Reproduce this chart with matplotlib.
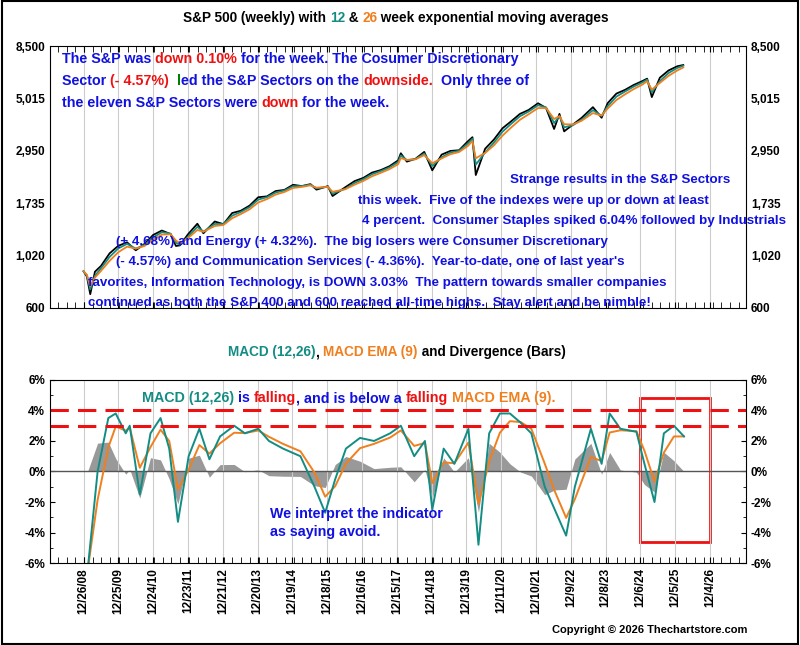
#Description: S&P 500 weekly with 12 & 26 week EMAs and the MACD (12,26) pane

#import the libraries
import numpy as np
import pandas as pd
import matplotlib.pyplot as plt
import matplotlib.dates as mdates
from matplotlib.transforms import offset_copy
plt.rcParams['font.family'] = ['Liberation Sans', 'DejaVu Sans']
plt.rcParams['font.weight'] = 'bold'


#store the data (S&P 500 closes)
SPX = pd.DataFrame({
    'Date': ['2008-12-26', '2009-01-30', '2009-03-06', '2009-04-24', '2009-06-26', '2009-09-25', '2009-12-24',
             '2010-03-26', '2010-06-25', '2010-09-24', '2010-12-24', '2011-03-25', '2011-06-24', '2011-08-19',
             '2011-09-30', '2011-12-23', '2012-03-30', '2012-06-01', '2012-09-28', '2012-12-28', '2013-03-29',
             '2013-06-28', '2013-09-27', '2013-12-27', '2014-03-28', '2014-06-27', '2014-09-26', '2014-12-26',
             '2015-03-27', '2015-06-26', '2015-08-28', '2015-12-25', '2016-02-12', '2016-06-24', '2016-09-30',
             '2016-12-30', '2017-03-31', '2017-06-30', '2017-09-29', '2017-12-29', '2018-01-26', '2018-03-30',
             '2018-06-29', '2018-09-28', '2018-12-21', '2019-03-29', '2019-06-28', '2019-09-27', '2019-12-27',
             '2020-02-14', '2020-03-20', '2020-06-26', '2020-09-25', '2020-12-25', '2021-03-26', '2021-06-25',
             '2021-09-24', '2021-12-31', '2022-03-25', '2022-06-17', '2022-08-12', '2022-09-30', '2022-12-30',
             '2023-03-31', '2023-07-28', '2023-10-27', '2023-12-29', '2024-03-29', '2024-06-28', '2024-09-27',
             '2024-12-27', '2025-02-14', '2025-04-04', '2025-06-27', '2025-09-26', '2025-12-26', '2026-02-27'],
    'Close': [870, 825, 690, 866, 918, 1044, 1126,
              1166, 1076, 1148, 1257, 1314, 1268, 1124,
              1131, 1265, 1408, 1278, 1440, 1402, 1569,
              1606, 1691, 1841, 1857, 1960, 1982, 2088,
              2061, 2102, 1988, 2060, 1864, 2037, 2168,
              2239, 2362, 2423, 2519, 2674, 2873, 2640,
              2718, 2914, 2417, 2834, 2942, 2962, 3240,
              3380, 2305, 3009, 3298, 3703, 3974, 4280,
              4455, 4766, 4543, 3675, 4280, 3586, 3840,
              4109, 4582, 4117, 4770, 5254, 5460, 5738,
              5970, 6115, 5074, 6173, 6644, 6930, 7020]})

#Set the date as the index
SPX = SPX.set_index(pd.DatetimeIndex(SPX['Date'].values))
SPX.index.name = 'Date'

#exponential moving averages (smoothing per point on the uneven dates)
SPX['EMA12'] = SPX['Close'].ewm(alpha=0.75).mean()
SPX['EMA26'] = SPX['Close'].ewm(alpha=0.55).mean()

#MACD values in percent
MACD = pd.DataFrame({
    'Date': ['2009-02-06', '2009-05-22', '2009-09-11', '2009-11-27', '2010-03-12', '2010-04-23', '2010-08-06',
             '2010-11-26', '2011-03-11', '2011-06-10', '2011-09-09', '2011-12-30', '2012-04-20', '2012-08-03',
             '2012-11-23', '2013-04-19', '2013-08-09', '2013-12-27', '2014-04-18', '2014-09-12', '2015-03-13',
             '2015-08-07', '2015-11-27', '2016-03-11', '2016-07-01', '2016-11-25', '2017-04-21', '2017-10-06',
             '2018-01-26', '2018-06-15', '2018-10-05', '2018-12-21', '2019-04-19', '2019-08-09', '2020-01-03',
             '2020-04-17', '2020-08-07', '2020-11-27', '2021-03-12', '2021-07-02', '2021-10-22', '2022-03-11',
             '2022-06-24', '2022-10-21', '2023-01-20', '2023-07-07', '2023-10-27', '2024-01-19', '2024-05-10',
             '2024-10-25', '2025-01-17', '2025-05-02', '2025-08-08', '2025-11-21', '2026-03-06'],
    'MACD': [-6.5, 0.0, 3.5, 3.8, 2.5, 3.0, -1.5,
             2.5, 3.5, 1.5, -3.3, 1.0, 2.8, 0.8,
             2.3, 3.0, 2.5, 2.8, 2.0, 1.5, 1.0,
             -1.0, -2.7, -0.5, 1.5, 2.2, 2.0, 2.5,
             3.0, 1.0, 2.0, -2.5, 1.5, 0.5, 2.8,
             -4.8, 2.5, 3.8, 3.8, 3.2, 2.5, -1.0,
             -2.5, -4.2, -1.0, 2.8, 0.5, 3.8, 2.8,
             2.6, 0.5, -2.0, 2.5, 3.0, 2.3]})
MACD = MACD.set_index(pd.DatetimeIndex(MACD['Date'].values))
MACD['EMA9'] = MACD['MACD'].ewm(alpha=0.6).mean()
MACD['Div'] = MACD['MACD'] - MACD['EMA9']


#helper: write a line of text in several colours
def color_text(ax, x, y, parts, size=10.3):
    fig = ax.figure
    fig.canvas.draw()
    renderer = fig.canvas.get_renderer()
    trans = ax.transAxes
    for txt, col in parts:
        t = ax.text(x, y, txt, color=col, fontsize=size, fontweight='bold', transform=trans, va='center')
        ext = t.get_window_extent(renderer=renderer)
        trans = offset_copy(t.get_transform(), x=ext.width, units='dots')


#ticks every 52 weeks from 12/26/08
ticks = pd.date_range('2008-12-26', periods=19, freq='364D')
xmin, xmax = pd.Timestamp('2008-01-10'), pd.Timestamp('2027-12-15')

fig = plt.figure(figsize=(8, 6.45), dpi=100)
fig.add_artist(plt.Rectangle((0.002, 0.002), 0.996, 0.996, transform=fig.transFigure,
                             fill=False, edgecolor='black', lw=1.5))  # outer frame

#upper pane: price and EMAs
ax1 = plt.axes([0.0625, 0.5225, 0.87, 0.406])
ax1.plot(SPX.index, SPX['Close'], color='black', lw=1.3)
ax1.plot(SPX.index, SPX['EMA12'], color='#138d84', lw=1.3)
ax1.plot(SPX.index, SPX['EMA26'], color='#f07f1e', lw=1.3)
ax1.set_yscale('log')
ax1.set_ylim(600, 8500)
ax1.set_yticks([600, 1020, 1735, 2950, 5015, 8500])
ax1.set_yticklabels(['600', '1,020', '1,735', '2,950', '5,015', '8,500'])
ax1.minorticks_off()
ax1.set_xlim(xmin, xmax)
ax1.set_xticks(ticks)
ax1.set_xticklabels([])
ax1.xaxis.set_minor_locator(mdates.MonthLocator(bymonth=[1, 4, 7, 10]))
ax1.tick_params(axis='x', which='both', direction='in', top=True, length=4)
ax1.tick_params(axis='y', right=True, labelright=True, labelsize=8.5, length=0)
ax1.grid(axis='x', color='#cccccc', lw=0.8)
color_text(ax1, 0.191, 1.107, [('S&P 500 (weekly) with ', 'black'), ('12', '#138d84'), (' & ', 'black'),
                               ('26', '#f07f1e'), (' week exponential moving averages', 'black')], size=9.8)

blue, red = '#1010e0', '#ee1111'
color_text(ax1, 0.017, 0.95, [('The S&P was ', blue), ('down 0.10%', red), (' for the week. The Cosumer Discretionary', blue)])
color_text(ax1, 0.017, 0.866, [('Sector ', blue), ('(- 4.57%)', red), ('  l', 'green'), ('ed the S&P Sectors on the ', blue),
                               ('downside.', red), ('  Only three of', blue)])
color_text(ax1, 0.017, 0.782, [('the eleven S&P Sectors were ', blue), ('down', red), (' for the week.', blue)])
notes = ['Strange results in the S&P Sectors',
         'this week.  Five of the indexes were up or down at least',
         '4 percent.  Consumer Staples spiked 6.04% followed by Industrials',
         '(+ 4.68%) and Energy (+ 4.32%).  The big losers were Consumer Discretionary',
         '(- 4.57%) and Communication Services (- 4.36%).  Year-to-date, one of last year\'s',
         'favorites, Information Technology, is DOWN 3.03%  The pattern towards smaller companies',
         'continued as both the S&P 400 and 600 reached all-time highs.  Stay alert and be nimble!']
xs = [510, 358, 362, 116, 116, 88, 88]  # left edge of each line, pixels
for i, line in enumerate(notes):
    ax1.text((xs[i] - 50) / 696, (308 - (180 + i * 20.5)) / 262, line, color=blue, fontsize=9.6,
             va='center', transform=ax1.transAxes)

#lower pane: MACD, signal line and divergence bars
ax2 = plt.axes([0.0625, 0.127, 0.87, 0.284])
ax2.fill_between(MACD.index, MACD['Div'], 0, color='#999999', lw=0)
ax2.axhline(0, color='#555555', lw=1)
ax2.plot(MACD.index, MACD['EMA9'], color='#f07f1e', lw=1.4)
ax2.plot(MACD.index, MACD['MACD'], color='#138d84', lw=1.4)
ax2.axhline(4, linestyle='--', color=red, lw=2.2, dashes=(6, 3))
ax2.axhline(3, linestyle='--', color=red, lw=2.2, dashes=(6, 3))
ax2.add_patch(plt.Rectangle((mdates.date2num(pd.Timestamp('2024-12-06')), -4.6),
                            mdates.date2num(pd.Timestamp('2026-12-04')) - mdates.date2num(pd.Timestamp('2024-12-06')),
                            9.4, fill=False, edgecolor=red, lw=2))
ax2.set_ylim(-6, 6)
ax2.set_yticks([-6, -4, -2, 0, 2, 4, 6])
ax2.set_yticklabels(['-6%', '-4%', '-2%', '0%', '2%', '4%', '6%'])
ax2.yaxis.set_minor_locator(plt.MultipleLocator(1))
ax2.set_xlim(xmin, xmax)
ax2.set_xticks(ticks)
ax2.set_xticklabels([f'{d.month}/{d.day}/{d.strftime("%y")}' for d in ticks], rotation=90, fontsize=8.5)
ax2.xaxis.set_minor_locator(mdates.MonthLocator(bymonth=[1, 4, 7, 10]))
ax2.tick_params(axis='x', which='both', direction='in', length=4)
ax2.tick_params(axis='y', which='both', direction='in', right=True, labelright=True, labelsize=8.5)
ax2.grid(axis='x', color='#cccccc', lw=0.8)
color_text(ax2, 0.256, 1.152, [('MACD (12,26)', '#138d84'), (', ', 'black'), ('MACD EMA (9)', '#f07f1e'),
                               (' and Divergence (Bars)', 'black')], size=9.8)
color_text(ax2, 0.132, 0.9, [('MACD (12,26)', '#138d84'), (' is ', blue), ('falling', red),
                             (', and is below a ', blue), ('falling', red), (' MACD EMA (9).', '#f07f1e')], size=10.3)
ax2.text(0.316, 0.15, 'We interpret the indicator\nas saying avoid.', color=blue, fontsize=10.3, transform=ax2.transAxes,
         linespacing=1.3)
plt.figtext(0.935, 0.018, 'Copyright \u00a9 2026 Thechartstore.com', ha='right', fontsize=8)

plt.savefig('out.png', dpi=100)
